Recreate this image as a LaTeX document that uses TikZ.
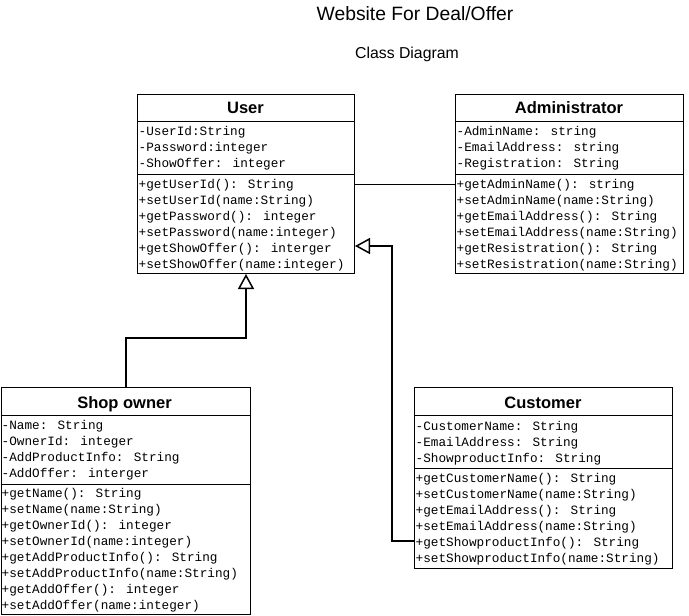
\documentclass[tikz,border=0pt]{standalone}
\usepackage{fontspec}
\setmainfont{Liberation Sans}
\newfontfamily\memfont{Liberation Mono}
\usetikzlibrary{arrows.meta,calc}
\tikzset{
  box/.style={draw=black, line width=1pt, fill=white, inner sep=0pt, anchor=north west},
  divider/.style={draw=black, line width=1pt},
  mem/.style={anchor=base west, inner sep=0pt, font=\memfont\fontsize{12.7}{14}\selectfont},
  hdr/.style={anchor=base, inner sep=0pt, font=\bfseries\fontsize{16.5}{18}\selectfont},
  gen/.style={draw=black, line width=2pt, -{Triangle[open, length=15pt, width=16pt, line width=1.5pt]}},
  assoc/.style={draw=black, line width=1pt},
}
\begin{document}
\begin{tikzpicture}[x=1pt, y=-1pt]
\useasboundingbox (0,0) rectangle (689,616);

% titles
\node[anchor=base, inner sep=0pt, font=\fontsize{19.3}{21}\selectfont] (title) at (415,20) {Website For Deal/Offer};
\node[anchor=base, inner sep=0pt, font=\fontsize{15.8}{17}\selectfont] (subtitle) at (407,58.5) {Class Diagram};

% User
\node[box, minimum width=217pt, minimum height=179pt] (user) at (137,94) {};
\draw[divider] (user.west |- 0,121) -- (user.east |- 0,121);
\draw[divider] (user.west |- 0,174) -- (user.east |- 0,174);
\node[hdr] (userT) at (245.5,113) {User};
\foreach \t [count=\i from 0] in {-UserId:String,-Password:integer,-ShowOffer: integer}
  \node[mem] (ua\i) at (138.5,135+16*\i) {\t};
\foreach \t [count=\i from 0] in {+getUserId(): String,+setUserId(name:String),+getPassword(): integer,+setPassword(name:integer),+getShowOffer(): interger,+setShowOffer(name:integer)}
  \node[mem] (um\i) at (138.5,188+16*\i) {\t};

% Administrator
\node[box, minimum width=228pt, minimum height=179pt] (admin) at (455,94) {};
\draw[divider] (admin.west |- 0,121) -- (admin.east |- 0,121);
\draw[divider] (admin.west |- 0,174) -- (admin.east |- 0,174);
\node[hdr] (adminT) at (569,113) {Administrator};
\foreach \t [count=\i from 0] in {-AdminName: string,-EmailAddress: string,-Registration: String}
  \node[mem] (aa\i) at (456.5,135+16*\i) {\t};
\foreach \t [count=\i from 0] in {+getAdminName(): string,+setAdminName(name:String),+getEmailAddress(): String,+setEmailAddress(name:String),+getResistration(): String,+setResistration(name:String)}
  \node[mem] (am\i) at (456.5,188+16*\i) {\t};

% Shop owner
\node[box, minimum width=249pt, minimum height=227pt] (shop) at (0.5,387) {};
\draw[divider] (shop.west |- 0,415) -- (shop.east |- 0,415);
\draw[divider] (shop.west |- 0,484) -- (shop.east |- 0,484);
\node[hdr] (shopT) at (124.5,408) {Shop owner};
\foreach \t [count=\i from 0] in {-Name: String,-OwnerId: integer,-AddProductInfo: String,-AddOffer: interger}
  \node[mem] (sa\i) at (1.5,429+16*\i) {\t};
\foreach \t [count=\i from 0] in {+getName(): String,+setName(name:String),+getOwnerId(): integer,+setOwnerId(name:integer),+getAddProductInfo(): String,+setAddProductInfo(name:String),+getAddOffer(): integer,+setAddOffer(name:integer)}
  \node[mem] (sm\i) at (1.5,497+16*\i) {\t};

% Customer
\node[box, minimum width=258pt, minimum height=181pt] (cust) at (414,387) {};
\draw[divider] (cust.west |- 0,415) -- (cust.east |- 0,415);
\draw[divider] (cust.west |- 0,468) -- (cust.east |- 0,468);
\node[hdr] (custT) at (543,408) {Customer};
\foreach \t [count=\i from 0] in {-CustomerName: String,-EmailAddress: String,-ShowproductInfo: String}
  \node[mem] (ca\i) at (415.5,430+16*\i) {\t};
\foreach \t [count=\i from 0] in {+getCustomerName(): String,+setCustomerName(name:String),+getEmailAddress(): String,+setEmailAddress(name:String),+getShowproductInfo(): String,+setShowproductInfo(name:String)}
  \node[mem] (cm\i) at (415.5,482+16*\i) {\t};

% connectors
\draw[assoc] (user.east |- 0,184) -- (admin.west |- 0,184);
\draw[gen] (shop.north) -- ++(0,-49) -| (user.south);
\coordinate (custport) at (cust.west |- 0,541);
\coordinate (userport) at (user.east |- 0,246);
\draw[gen] (custport) -- ++(-22,0) |- (userport);
\end{tikzpicture}
\end{document}
